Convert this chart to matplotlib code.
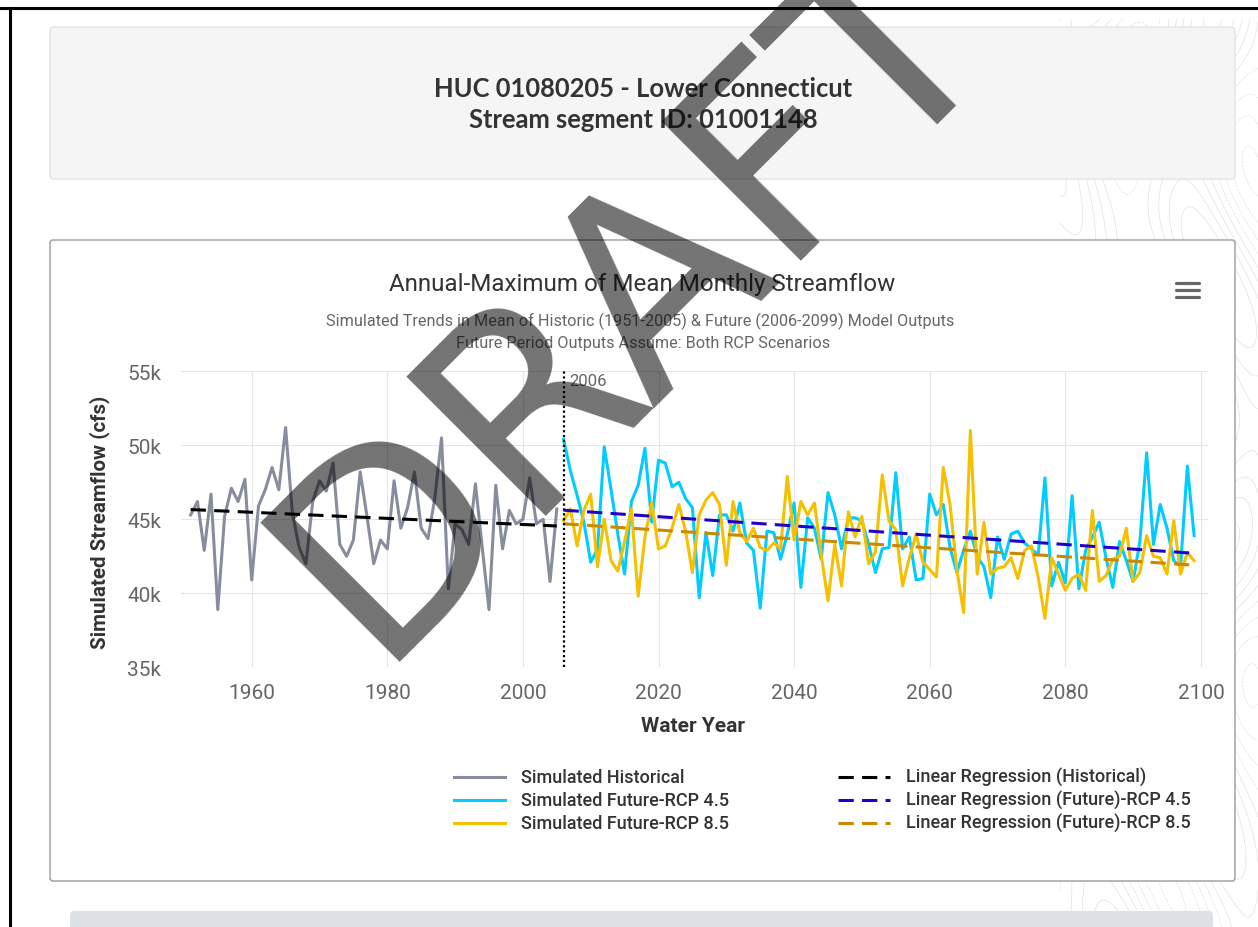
import numpy as np
import matplotlib
matplotlib.use("Agg")
import matplotlib.pyplot as plt
from matplotlib.patches import FancyBboxPatch
from matplotlib.lines import Line2D
from matplotlib.ticker import FixedLocator, FuncFormatter

# ---------------------------------------------------------------- data
hist_years = list(range(1951, 2006))
hist_flow_k = [
    45.3, 46.2, 42.9, 46.7, 38.9, 45.2, 47.1, 46.2, 47.7, 40.9,
    45.9, 47.0, 48.5, 47.0, 51.2, 45.4, 43.1, 42.0, 46.2, 47.6,
    46.9, 48.8, 43.3, 42.5, 43.6, 48.2, 45.2, 42.0, 43.6, 43.0,
    47.6, 44.4, 45.8, 48.2, 44.4, 43.7, 46.4, 50.5, 40.3, 44.7,
    44.3, 43.3, 47.4, 43.1, 38.9, 47.3, 43.0, 45.6, 44.7, 45.0,
    47.8, 44.7, 45.0, 40.8, 45.7,
]

future_years = list(range(2006, 2100))
rcp45_flow_k = [
    50.4, 48.3, 46.6, 44.8, 42.1, 43.0, 49.9, 47.0, 44.0, 41.3,
    46.2, 47.3, 49.8, 44.8, 49.0, 48.8, 47.2, 47.5, 46.4, 45.8,
    39.7, 44.1, 41.2, 45.3, 45.3, 44.2, 46.1, 43.4, 42.9, 39.0,
    44.2, 44.1, 42.3, 44.0, 46.1, 40.4, 45.1, 44.4, 42.3, 46.8,
    45.3, 43.0, 45.1, 45.1, 44.9, 43.3, 41.4, 43.0, 43.1, 48.15,
    43.0, 43.8, 40.9, 41.0, 46.7, 45.3, 46.0, 43.1, 41.4, 42.9,
    44.2, 42.5, 41.8, 39.7, 43.8, 42.3, 44.0, 44.2, 43.4, 43.0,
    42.6, 47.8, 40.5, 42.1, 40.7, 46.6, 40.3, 42.9, 43.8, 44.8,
    42.4, 40.4, 43.5, 42.2, 40.8, 43.5, 49.5, 43.3, 46.0, 44.4,
    42.2, 41.8, 48.6, 43.9,
]
rcp85_flow_k = [
    44.9, 45.7, 43.2, 45.6, 46.7, 41.8, 45.0, 42.2, 41.5, 43.5,
    45.7, 39.8, 43.8, 46.1, 43.0, 43.2, 44.4, 46.0, 44.2, 41.4,
    45.3, 46.3, 46.8, 46.0, 41.9, 46.2, 44.1, 43.5, 44.4, 43.1,
    42.9, 43.4, 43.0, 47.9, 43.6, 46.2, 45.3, 46.1, 42.6, 39.5,
    43.3, 40.5, 45.5, 43.8, 45.2, 42.0, 42.8, 48.0, 44.9, 44.3,
    40.5, 42.4, 44.0, 42.1, 41.6, 41.1, 48.5, 46.0, 41.6, 38.7,
    51.0, 41.3, 44.8, 41.3, 41.7, 41.8, 42.4, 41.0, 42.9, 43.2,
    41.1, 38.3, 42.4, 41.3, 40.2, 41.0, 41.3, 40.2, 45.6, 40.8,
    41.2, 42.3, 42.5, 44.4, 40.8, 41.4, 43.9, 42.5, 42.4, 41.3,
    44.9, 41.3, 42.75, 42.2,
]

series_labels = ["Simulated Historical", "Simulated Future-RCP 4.5",
                 "Simulated Future-RCP 8.5"]
trend_labels = ["Linear Regression (Historical)",
                "Linear Regression (Future)-RCP 4.5",
                "Linear Regression (Future)-RCP 8.5"]
x_ticks = [1960, 1980, 2000, 2020, 2040, 2060, 2080, 2100]
y_ticks = [35000, 40000, 45000, 50000, 55000]
split_year = 2006

header_lines = ["HUC 01080205 - Lower Connecticut", "Stream segment ID: 01001148"]
chart_title = "Annual-Maximum of Mean Monthly Streamflow"
chart_subtitle = ["Simulated Trends in Mean of Historic (1951-2005) & Future (2006-2099) Model Outputs",
                  "Future Period Outputs Assume: Both RCP Scenarios"]

# ---------------------------------------------------------------- styles
C_HIST = "#878d9c"
C_45 = "#00ccff"
C_85 = "#f4c000"
C_TH = "#000000"
C_T45 = "#2200cc"
C_T85 = "#cc8800"
LW = 2.2
DASH = (5, 2.7)
FONT = "Roboto"

W, H = 1258, 928
fig = plt.figure(figsize=(W / 100, H / 100), dpi=100)
fig.patch.set_facecolor("white")

# page layer in pixel coordinates
bg = fig.add_axes([0, 0, 1, 1], zorder=0)
bg.set_xlim(0, W)
bg.set_ylim(H, 0)
bg.axis("off")

# faint topographic texture on the right side of the page
gx, gy = np.meshgrid(np.linspace(1060, W, 240), np.linspace(20, H, 500))
field = np.sin(gx / 21 + 1.7 * np.sin(gy / 90)) + 0.7 * np.cos(gy / 41 - gx / 63)
bg.contour(gx, gy, field, levels=10, colors="#d6d6d6", linewidths=0.5, alpha=0.7, zorder=0)

# page frame
bg.add_line(Line2D([0, W], [9, 9], color="black", lw=2.2, zorder=6))
bg.add_line(Line2D([9.5, 9.5], [9, H], color="black", lw=2.2, zorder=6))

# header card
bg.add_patch(FancyBboxPatch((50, 28), 1185, 152, boxstyle="round,pad=0,rounding_size=4",
                            fc="#f5f5f5", ec="#e3e3e3", lw=1.0, zorder=2))
bg.text(643, 89, header_lines[0], ha="center", va="center", fontsize=18.4,
        fontweight="bold", family="Lato", color="#333333", zorder=3)
bg.text(643, 120, header_lines[1], ha="center", va="center", fontsize=18.4,
        fontweight="bold", family="Lato", color="#333333", zorder=3)

# chart card
bg.add_patch(FancyBboxPatch((50, 241), 1185, 641, boxstyle="round,pad=0,rounding_size=3",
                            fc="white", ec="#9a9a9a", lw=1.0, zorder=2))
# bar at the bottom of the page
bg.add_patch(FancyBboxPatch((70, 912), 1143, 30, boxstyle="round,pad=0,rounding_size=4",
                            fc="#dde1e6", ec="none", zorder=2))

# chart titles
bg.text(642, 285, chart_title, ha="center", va="center", fontsize=17.4,
        family=FONT, color="#333333", zorder=3)
bg.text(640, 321, chart_subtitle[0], ha="center", va="center", fontsize=11.7,
        family=FONT, color="#666666", zorder=3)
bg.text(643, 344, chart_subtitle[1], ha="center", va="center", fontsize=11.7,
        family=FONT, color="#666666", zorder=3)

# context-menu icon
for yy in (283.5, 290.5, 297.5):
    bg.add_line(Line2D([1176, 1199], [yy, yy], color="#666666", lw=2.3,
                       solid_capstyle="round", zorder=3))

# axis titles
bg.text(100, 522, "Simulated Streamflow (cfs)", rotation=90, ha="center", va="center",
        fontsize=14.8, fontweight="bold", family=FONT, color="#333333", zorder=3)
bg.text(693, 727, "Water Year", ha="center", va="center", fontsize=15,
        fontweight="bold", family=FONT, color="#333333", zorder=3)

# ---------------------------------------------------------------- plot
x_lo, x_hi = 1949.5, 2101.0
px_per_year = 6.78
left_px = 251.7 - (1960 - x_lo) * px_per_year
width_px = (x_hi - x_lo) * px_per_year
top_px, bot_px = 372.3, 668.3
ax = fig.add_axes([left_px / W, 1 - bot_px / H, width_px / W, (bot_px - top_px) / H], zorder=1)
ax.set_facecolor("none")
ax.set_xlim(x_lo, x_hi)
ax.set_ylim(35000, 55000)
for s in ax.spines.values():
    s.set_visible(False)
ax.xaxis.set_major_locator(FixedLocator(x_ticks))
ax.yaxis.set_major_locator(FixedLocator(y_ticks))
ax.yaxis.set_major_formatter(FuncFormatter(lambda v, p: f"{int(v / 1000)}k"))
ax.tick_params(length=0, labelsize=15, labelcolor="#666666")
ax.tick_params(axis="y", pad=14)
ax.tick_params(axis="x", pad=11)
for lab in ax.get_xticklabels() + ax.get_yticklabels():
    lab.set_family(FONT)
ax.grid(True, color="#e6e6e6", lw=0.8)
ax.set_axisbelow(True)

hy = np.array(hist_years)
hv = np.array(hist_flow_k) * 1000
fy = np.array(future_years)
v45 = np.array(rcp45_flow_k) * 1000
v85 = np.array(rcp85_flow_k) * 1000

ax.plot(hy, hv, color=C_HIST, lw=LW, zorder=2, solid_joinstyle="round")
ax.plot(fy, v45, color=C_45, lw=LW, zorder=3, solid_joinstyle="round")
ax.plot(fy, v85, color=C_85, lw=LW, zorder=4, solid_joinstyle="round")


def trend(years, vals):
    k, b = np.polyfit(years, vals, 1)
    return k * years + b


ax.plot(hy, trend(hy, hv), color=C_TH, lw=LW, dashes=DASH, zorder=5)
ax.plot(fy, trend(fy, v45), color=C_T45, lw=LW, dashes=DASH, zorder=6)
ax.plot(fy, trend(fy, v85), color=C_T85, lw=LW, dashes=DASH, zorder=7)

ax.axvline(split_year, color="black", lw=1.6, ls=(0, (1, 1.2)), zorder=8)
ax.text(split_year + 0.9, 54400, str(split_year), ha="left", va="center", fontsize=12,
        family=FONT, color="#666666", zorder=8)

# ---------------------------------------------------------------- legend
left_styles = [dict(color=C_HIST), dict(color=C_45), dict(color=C_85)]
right_styles = [dict(color=C_TH, dashes=DASH), dict(color=C_T45, dashes=DASH),
                dict(color=C_T85, dashes=DASH)]
for i, yy in enumerate((778, 801, 824)):
    bg.add_line(Line2D([454, 505], [yy, yy], lw=LW, zorder=3, **left_styles[i]))
    bg.text(521, yy, series_labels[i], ha="left", va="center", fontsize=13,
            fontweight="medium", family=FONT, color="#333333", zorder=3)
    bg.add_line(Line2D([838, 890], [yy, yy], lw=LW, zorder=3, **right_styles[i]))
    bg.text(906, yy, trend_labels[i], ha="left", va="center", fontsize=13,
            fontweight="medium", family=FONT, color="#333333", zorder=3)

# ---------------------------------------------------------------- watermark
fig.text(686 / W, 1 - 349 / H, "DRAFT", rotation=45, rotation_mode="anchor",
         ha="center", va="baseline", fontsize=194, family="DejaVu Sans",
         color="black", alpha=0.55, zorder=10)

fig.savefig("out.png", dpi=100, facecolor="white")
